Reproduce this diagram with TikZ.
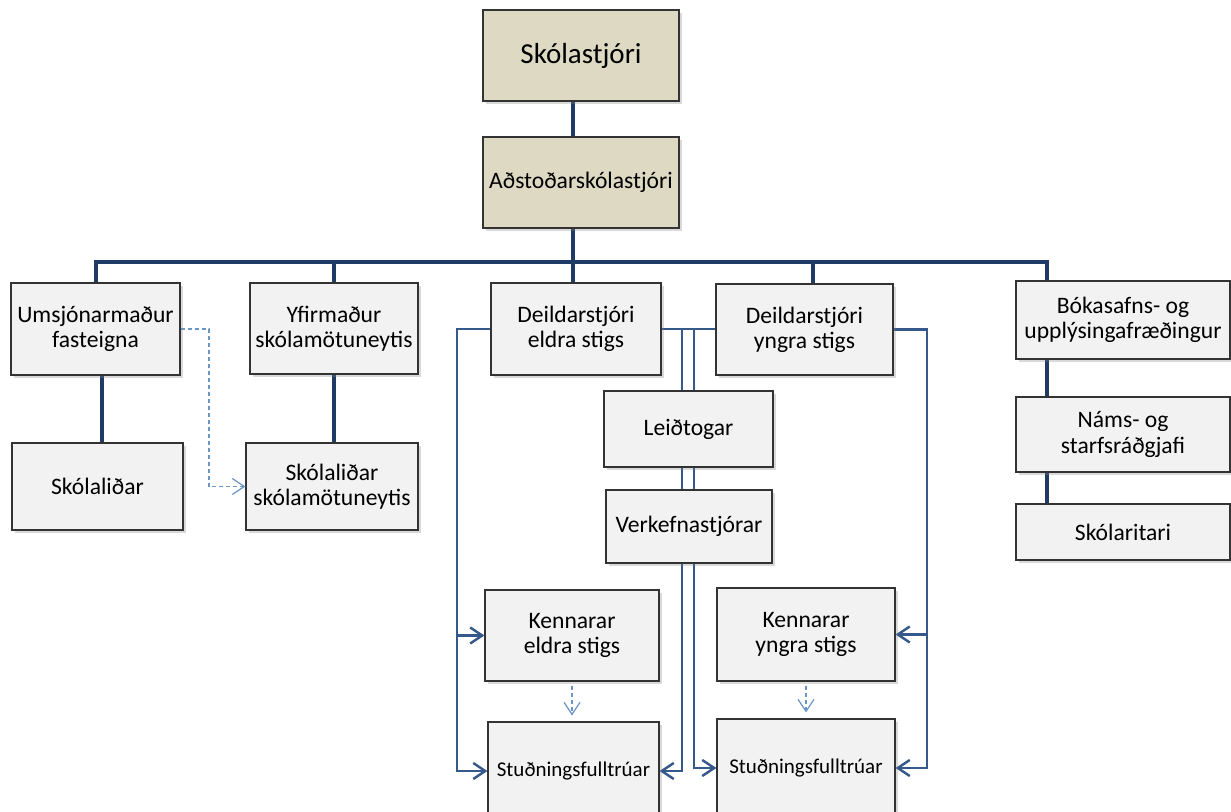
\documentclass[tikz,border=0pt]{standalone}
\usepackage{fontspec}
\setmainfont{Carlito}
\usetikzlibrary{arrows.meta,shadows,backgrounds}
\definecolor{boxgray}{HTML}{F2F2F2}
\definecolor{headtan}{HTML}{DDD9C3}
\definecolor{navy}{HTML}{1F3A64}
\definecolor{linkblue}{HTML}{34598A}
\definecolor{dashblue}{HTML}{6A95C6}

\begin{document}
\begin{tikzpicture}[x=0.5pt,y=-0.5pt,
  box/.style={draw=black!80,line width=0.6pt,fill=boxgray,align=center,inner sep=0pt,
    font=\fontsize{11.8}{12.6}\selectfont,
    drop shadow={shadow xshift=1.5pt,shadow yshift=-1.5pt,opacity=0.3}},
  head/.style={box,fill=headtan},
  trunk/.style={navy,line width=2pt},
  link/.style={linkblue,line width=1.2pt},
  dashlink/.style={dashblue,line width=0.6pt,dash pattern=on 2pt off 1.5pt},
  tip/.style={-{Straight Barb[length=6pt,width=8pt]}}]
\useasboundingbox (0,0) rectangle (1231,812);

% leadership
\node[head,minimum width=98pt,minimum height=45.5pt,font=\fontsize{14.5}{16}\selectfont] (top) at (581,55.5) {Skólastjóri};
\node[head,minimum width=98pt,minimum height=45.5pt] (asst) at (581,182.5) {Aðstoðarskólastjóri};

% second row
\node[box,minimum width=84.5pt,minimum height=46pt] (umsj) at (95.5,329) {Umsjónarmaður\\fasteigna};
\node[box,minimum width=84pt,minimum height=45.5pt] (yfir) at (334,328.5) {Yfirmaður\\skólamötuneytis};
\node[box,minimum width=85pt,minimum height=46pt] (deldE) at (576,329) {Deildarstjóri\\eldra stigs};
\node[box,minimum width=88.5pt,minimum height=45.5pt] (deldY) at (804.5,329.5) {Deildarstjóri\\yngra stigs};
\node[box,minimum width=107pt,minimum height=39pt] (bok) at (1123,320) {Bókasafns- og\\upplýsingafræðingur};

% below
\node[box,minimum width=85.5pt,minimum height=43.5pt] (skoli) at (97.5,486.5) {Skólaliðar};
\node[box,minimum width=86pt,minimum height=43.5pt] (skoliM) at (332,486.5) {Skólaliðar\\skólamötuneytis};
\node[box,minimum width=84.5pt,minimum height=38pt] (leid) at (688.5,429) {Leiðtogar};
\node[box,minimum width=83pt,minimum height=36.5pt] (verk) at (689,526.5) {Verkefnastjórar};
\node[box,minimum width=107pt,minimum height=37.5pt] (nams) at (1123,434.5) {Náms- og\\starfsráðgjafi};
\node[box,minimum width=107pt,minimum height=28pt] (ritari) at (1123,532) {Skólaritari};
\node[box,minimum width=87pt,minimum height=45.5pt] (kenE) at (572,635.5) {Kennarar\\eldra stigs};
\node[box,minimum width=89pt,minimum height=46.5pt] (kenY) at (806,634.5) {Kennarar\\yngra stigs};
\node[box,minimum width=85.5pt,minimum height=49pt,font=\fontsize{10.5}{12}\selectfont] (studE) at (573.5,771) {Stuðningsfulltrúar};
\node[box,minimum width=89pt,minimum height=49pt,font=\fontsize{10.5}{12}\selectfont] (studY) at (806,768) {Stuðningsfulltrúar};

\begin{scope}[on background layer]
\coordinate (tx) at (573,262);
\coordinate (yx) at (813,262);
\coordinate (bx) at (1047,262);
\coordinate (ux) at (102,400);
\draw[trunk] (top.south -| tx) -- (asst.north -| tx) (asst.south -| tx) -- (deldE.north -| tx);
\draw[trunk] (umsj.north) |- (bx) -- (bok.north -| bx);
\draw[trunk] (yfir.north) -- (yfir.north |- tx);
\draw[trunk] (yx) -- (deldY.north -| yx);
\draw[trunk] (umsj.south -| ux) -- (skoli.north -| ux);
\draw[trunk] (yfir.south) -- (yfir.south |- skoliM.north);
\draw[trunk] (bok.south -| bx) -- (nams.north -| bx) (nams.south -| bx) -- (ritari.north -| bx);

% department heads
\coordinate (lx) at (457,329);
\coordinate (m1) at (682,329);
\coordinate (m2) at (694,329);
\coordinate (rx) at (927,329.5);
\draw[link] (deldE.east) -- (deldE.east -| deldY.west);
\draw[link,tip] (deldE.west) -- (lx) |- (kenE.west);
\draw[link,tip] (lx) |- (studE.west);
\draw[link,tip] (m1) |- (studE.east);
\draw[link,tip] (m2) |- (studY.west);
\draw[link,tip] (deldY.east) -- (rx) |- (kenY.east);
\draw[link,tip] (rx) |- (studY.east);
\end{scope}

% dashed
\coordinate (dx) at (209,329);
\draw[dashlink,tip] (umsj.east) -- (dx) |- (skoliM.west);
\draw[dashlink,tip,shorten <=2pt,shorten >=3pt] (kenE.south) -- (kenE.south |- studE.north);
\draw[dashlink,tip,shorten <=2pt,shorten >=3pt] (kenY.south) -- (kenY.south |- studY.north);
\end{tikzpicture}
\end{document}
